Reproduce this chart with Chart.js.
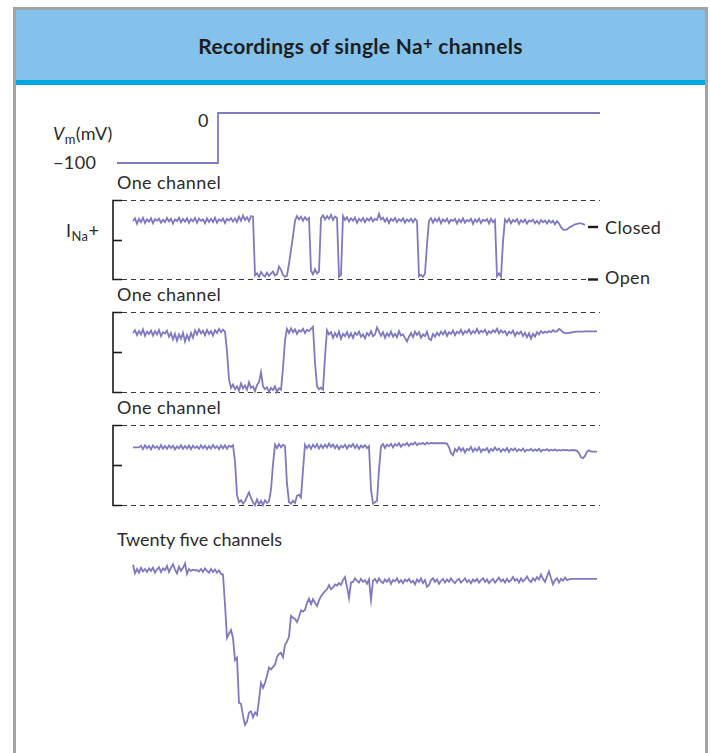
<!DOCTYPE html>
<html>
<head>
<meta charset="utf-8">
<title>Recordings of single Na+ channels</title>
<script src="https://cdn.jsdelivr.net/npm/chart.js@4.4.1/dist/chart.umd.min.js"></script>
<style>
  body { margin: 0; width: 710px; height: 753px; overflow: hidden; background: #fff;
         font-family: Lato, "DejaVu Sans", sans-serif; color: #2b2b2b; position: relative; }
  .frame { position: absolute; left: 13px; top: 7px; width: 695px; height: 780px; box-sizing: border-box;
           border: 3px solid #a3a3a3; border-bottom: none; }
  .head { position: absolute; left: 16px; top: 10px; width: 689px; height: 70px; background: #84c1eb; }
  .strip { position: absolute; left: 16px; top: 80px; width: 689px; height: 5px; background: #00a6e0; }
  .title { position: absolute; left: 16px; top: 10px; width: 689px; height: 70px; line-height: 72px;
           text-align: center; font-weight: bold; font-size: 21px; letter-spacing: 0.3px; color: #1e1e1e; }
  .lbl { position: absolute; font-size: 18px; line-height: 20px; white-space: nowrap; letter-spacing: 0.4px; }
  sub { font-size: 0.72em; vertical-align: -0.3em; line-height: 0; }
  sup { font-size: 0.8em; vertical-align: 0.3em; line-height: 0; }
  canvas { position: absolute; left: 100px; }
</style>
</head>
<body>
<div class="frame"></div>
<div class="head"></div>
<div class="strip"></div>
<div class="title">Recordings of single Na<sup>+</sup> channels</div>

<div class="lbl" style="left:198px; top:110px;">0</div>
<div class="lbl" style="left:53px; top:123px;"><i>V</i><sub>m</sub>(mV)</div>
<div class="lbl" style="left:53px; top:152px;">−100</div>
<div class="lbl" style="left:117px; top:172px;">One channel</div>
<div class="lbl" style="left:66px; top:220px;">I<sub>Na</sub>+</div>
<div class="lbl" style="left:605px; top:217px;">Closed</div>
<div class="lbl" style="left:605px; top:267px;">Open</div>
<div class="lbl" style="left:117px; top:284px;">One channel</div>
<div class="lbl" style="left:117px; top:397px;">One channel</div>
<div class="lbl" style="left:117px; top:529px; letter-spacing:0;">Twenty five channels</div>

<canvas id="vm" width="520" height="76" style="top:100px"></canvas>
<canvas id="ch1" width="520" height="100" style="top:190px"></canvas>
<canvas id="ch2" width="520" height="100" style="top:302px"></canvas>
<canvas id="ch3" width="520" height="100" style="top:415px"></canvas>
<canvas id="ens" width="520" height="190" style="top:551px"></canvas>

<script>
(function () {

// ---------------------------------------------------------------- data

var traceColor = "#7f79c0";
var xMin = 0, xMax = 48.3;          // ms
var t0 = 1.6, dt = 0.2;             // sampling of the recordings (ms)

// command potential (mV)
var vmTimes  = [0, 10.1, 48.3];
var vmValues = [-100, 0, 0];

// single channel currents (pA), closed ~ 0, open ~ -2
var channel1 = [
  0.04, 0.14, -0.06, 0.12, 0.0, 0.16, -0.03, 0.1, 0.02, 0.14,
  -0.04, 0.11, 0.05, 0.13, -0.02, 0.09, 0.0, 0.15, 0.03, 0.12,
  -0.05, 0.1, 0.04, 0.16, -0.01, 0.12, 0.02, 0.14, -0.03, 0.11,
  0.03, 0.15, -0.02, 0.13, 0.05, 0.1, -0.04, 0.14, 0.01, 0.12,
  0.0, 0.16, -0.02, 0.1, 0.04, 0.13, -0.03, 0.12, 0.06, 0.15,
  0.02, 0.13, 0.0, 0.2, 0.05, 0.24, 0.08, 0.18, 0.03, 0.22,
  0.2,
  -1.92, -1.85, -1.97, -1.8, -1.9, -1.96, -1.82, -1.94, -1.85, -1.78,
  -1.92, -1.88, -1.6, -1.72, -1.9, -1.97, -1.93,
  -1.5, -1.0, -0.5,
  0.05, 0.22, 0.1, 0.2, 0.05, 0.18, 0.08, 0.15,
  -1.75, -1.88, -1.7, -1.85, -1.78,
  0.15, 0.25, 0.1, 0.22, 0.12, 0.26, 0.08, 0.2, 0.15,
  -1.97, -1.9,
  0.22, 0.08, 0.18, 0.02, 0.14, 0.05, 0.16, -0.02, 0.12, 0.04,
  0.15, 0.0, 0.13, 0.06, 0.17, 0.03, 0.12, 0.08, 0.3, 0.1,
  0.16, 0.02, 0.14, -0.03, 0.12, 0.05, 0.15, 0.0, 0.11, 0.04,
  0.14, -0.02, 0.1, 0.03, 0.13, 0.0, 0.12, 0.05,
  -1.95, -1.9, -1.97, -1.85, -0.8,
  0.05, 0.14, -0.02, 0.12, 0.03, 0.15, -0.04, 0.1, 0.02, 0.13,
  -0.03, 0.09, 0.05, 0.12, -0.05, 0.1, 0.0, 0.14, -0.02, 0.08,
  0.03, 0.12, -0.06, 0.1, 0.01, 0.13, -0.03, 0.09, 0.04, 0.11,
  -0.05, 0.12, 0.0, 0.08,
  -1.95, -1.85, -1.97, -0.7,
  0.1, 0.0, 0.12, -0.04, 0.08, 0.02, 0.11, -0.06, 0.07, 0.0,
  0.1, -0.05, 0.06, 0.02, 0.09, -0.04, 0.05, -0.06, 0.08, 0.0,
  0.06, -0.05, 0.07, -0.02, 0.05, -0.08, 0.04, -0.05,
  -0.18, -0.27, -0.28, -0.26, -0.2, -0.16, -0.12, -0.08, -0.06, -0.04, -0.04, -0.07, -0.1
];

var channel2 = [
  0.05, 0.15, -0.02, 0.12, 0.0, 0.18, -0.05, 0.1, 0.02, 0.14,
  -0.04, 0.12, 0.0, 0.16, -0.06, 0.08, 0.03, 0.13, -0.08, 0.05,
  -0.18, 0.02, -0.22, 0.0, -0.15, 0.06, -0.25, -0.02, -0.2, 0.05,
  -0.12, 0.15, 0.0, 0.18, 0.04, 0.13, -0.03, 0.16, 0.02, 0.12,
  -0.04, 0.15, 0.05, 0.2, 0.08, 0.17, 0.1,
  -0.6, -1.6,
  -1.9, -1.78, -1.95, -1.85, -2.0, -1.75, -1.92, -1.82, -1.97, -1.7,
  -1.9, -1.85, -2.02, -1.8, -1.7, -1.35, -1.85, -1.95, -1.88, -2.05,
  -1.9, -1.98, -1.85, -2.05, -1.92, -1.97,
  -1.2, -0.2,
  0.2, 0.05, 0.22, 0.08, 0.18, 0.02, 0.15, 0.1, 0.2, 0.05, 0.16, 0.12, 0.2, 0.27,
  -1.0, -1.85, -1.95, -1.9, -1.97, -0.8,
  0.15, 0.0, 0.08, -0.12, 0.05, -0.08, 0.1, -0.15, 0.02, -0.06,
  0.08, -0.1, 0.04, -0.12, 0.06, -0.02, 0.1, -0.08, 0.0, -0.14,
  0.05, -0.04, 0.12, -0.06, 0.0, 0.25, 0.1, -0.05, 0.08, -0.12,
  0.04, -0.06, 0.1, -0.08, 0.02, -0.1, 0.12, -0.04, 0.0, -0.12,
  -0.25, -0.08, 0.05, -0.1, 0.1, -0.02, 0.08, -0.12, 0.0, -0.06,
  0.1, -0.15, -0.2, 0.02, -0.08, 0.06, -0.04, 0.1, 0.0, 0.12,
  -0.05, 0.08, 0.02, 0.14, -0.03, 0.1, 0.04, 0.16, 0.0, 0.12,
  0.06, 0.18, 0.02, 0.12, 0.05, 0.2, 0.04, 0.13, 0.08, 0.17,
  0.0, 0.12, 0.05, 0.15, 0.08, 0.2, 0.03, 0.15, 0.06, 0.12,
  -0.02, 0.1, 0.04, 0.14, -0.05, 0.08, 0.02, 0.1, -0.06, 0.06,
  -0.1, 0.04, -0.15, 0.02, -0.08, 0.08, 0.0, 0.12, 0.05, 0.1,
  0.06, 0.12, 0.08, 0.15, 0.1, 0.12,
  0.2,
  0.15, 0.08, 0.05, 0.05, 0.06, 0.07, 0.08, 0.09, 0.1, 0.1,
  0.1, 0.1, 0.11, 0.11, 0.11, 0.11, 0.11, 0.11, 0.11
];

var channel3 = [
  0.0, 0.0, 0.0, 0.0,
  0.06, -0.06, 0.08, -0.03, 0.05, -0.07, 0.07, -0.02, 0.04, -0.06,
  0.08, -0.04, 0.05, -0.05, 0.07, -0.02, 0.06, -0.07, 0.04, -0.03,
  0.08, -0.05, 0.05, -0.04, 0.07, -0.06, 0.06, -0.02, 0.04, -0.05,
  0.08, -0.03, 0.06, -0.06, 0.05, -0.04, 0.09, -0.02, 0.05, -0.06,
  0.07, -0.03, 0.08, -0.05, 0.06, 0.02, 0.08,
  -0.5, -1.7,
  -1.95, -1.88, -2.0, -1.92, -1.75, -1.6, -1.8, -1.95, -2.05, -1.85,
  -2.02, -1.9, -2.05, -1.88, -1.98, -1.92,
  -1.5, -0.6,
  0.1, -0.02, 0.12, 0.0, 0.1, 0.05,
  -1.3,
  -1.95, -2.0, -1.9, -1.98, -1.72, -1.68, -1.78,
  -0.8,
  0.1, -0.02, 0.08, -0.05, 0.1, 0.0, 0.12, -0.04, 0.09, -0.02,
  0.1, 0.0, 0.14, 0.02, 0.1, -0.03, 0.08, -0.06, 0.06, 0.0,
  0.1, -0.04, 0.08, 0.02, 0.12, -0.02, 0.09, -0.05, 0.07, 0.0,
  0.08, -0.02, 0.05,
  -1.5, -2.0, -1.95, -1.9, -0.8,
  0.05, 0.12, -0.02, 0.1, 0.04, 0.13, 0.0, 0.12, 0.06, 0.15,
  0.02, 0.12, 0.08, 0.16, 0.05, 0.14, 0.1, 0.18, 0.08, 0.15,
  0.12, 0.16, 0.1, 0.17, 0.13, 0.16, 0.15, 0.15, 0.15, 0.15, 0.15, 0.15, 0.15, 0.14,
  0.0, -0.2, -0.28,
  -0.05, -0.14, 0.0, -0.12, -0.03, -0.18, -0.05, -0.1, 0.02, -0.15,
  -0.04, -0.12, 0.0, -0.16, -0.06, -0.1, -0.02, -0.17, -0.05, -0.12,
  0.0, -0.1, -0.04, -0.15, -0.06, -0.12, -0.02, -0.16, -0.05, -0.1,
  -0.03, -0.14, -0.06, -0.12, -0.04, -0.15, -0.08, -0.11, -0.05, -0.13,
  -0.07, -0.12, -0.05, -0.14, -0.08, -0.1, -0.06, -0.12, -0.08, -0.11,
  -0.07, -0.12, -0.09, -0.11, -0.08, -0.1, -0.09, -0.11, -0.1, -0.1,
  -0.1, -0.12,
  -0.2, -0.35, -0.38, -0.3, -0.15, -0.1, -0.15, -0.15, -0.15, -0.15
];

// sum of twenty five channels (pA)
var ensemble25 = [
  1.0, -0.4, 0.3, -0.3, 0.5, -0.1, 0.3, -0.2, 0.4, 0.0,
  0.5, -0.3, 0.2, 0.6, -0.2, 0.4, 0.1, 0.8, -0.2, 0.5,
  1.1, 0.2, -0.4, 0.7, 0.0, 0.5, 1.2, -0.5, 0.3, 0.0,
  0.2, 0.1, 0.1, -0.1, 0.3, -0.2, 0.4, 0.0, -0.3, 0.3,
  -0.2, 0.2, -0.3, 0.1, -0.5, -0.6,
  -5.5, -10.9, -10.2, -9.6, -10.9, -14.5, -14.1, -21.4, -21.6, -23.5,
  -25.0, -24.5, -23.0, -22.8, -23.8, -23.0, -23.4, -21.0, -18.2, -19.0,
  -18.2, -17.0, -15.7, -16.0, -15.6, -15.2, -14.0, -13.5, -13.3, -14.0,
  -12.0, -11.5, -10.7, -7.3, -7.6, -7.8, -8.3, -7.5, -6.4, -6.6,
  -6.3, -5.2, -4.5, -5.4, -4.6, -5.2, -5.7, -4.8, -4.1, -3.7,
  -3.3, -3.0, -2.3, -3.0, -2.7, -2.2, -2.4, -2.0, -2.3, -1.5,
  -1.0, -2.6, -4.4, -1.9, -1.8, -1.2, -1.6,
  -1.9, -1.3, -1.8, -1.5, -2.1, -1.4, -4.7, -1.6, -1.3, -1.9,
  -1.2, -1.7, -2.0, -1.4, -1.8, -1.3, -2.1, -1.5, -1.7, -1.2,
  -1.9, -1.5, -2.0, -1.4, -1.7, -1.3, -1.9, -1.6, -2.2, -1.4,
  -1.8, -1.2, -2.0, -1.5, -2.6, -2.3, -1.5, -1.2, -1.8, -1.4,
  -2.1, -1.6, -1.3, -1.9, -1.4, -1.8, -1.2, -1.7, -2.0, -1.5,
  -1.3, -1.9, -1.6, -1.2, -1.8, -1.5, -2.0, -1.4, -1.7, -1.3,
  -1.9, -1.5, -1.2, -1.8, -1.4, -2.0, -1.6, -1.3, -1.9, -1.5,
  -1.1, -1.7, -1.4, -1.9, -1.3, -1.8, -1.5, -1.0, -1.6, -1.3,
  -1.9, -1.2, -1.7, -1.4, -0.9, -1.5, -1.8, -1.2, -1.6, -1.0,
  -1.4, -0.6, -1.3, -1.8, -0.9, -0.1, -1.2, -2.2, -1.5, -1.2,
  -1.9, -1.3, -1.6, -1.1, -1.5, -1.4,
  -1.3, -1.3, -1.3, -1.3, -1.3, -1.3, -1.3, -1.3, -1.3, -1.3, -1.3, -1.3, -1.3, -1.3
];

// ---------------------------------------------------------------- helpers

function toPoints(values) {
    var pts = [];
    for (var i = 0; i < values.length; i++) {
        pts.push({ x: t0 + i * dt, y: values[i] });
    }
    return pts;
}

function seg(ctx, x1, y1, x2, y2) {
    ctx.beginPath();
    ctx.moveTo(x1, y1);
    ctx.lineTo(x2, y2);
    ctx.stroke();
}

// dashed closed/open guide lines + left bracket of a single channel panel
var panelFrame = {
    id: 'panelFrame',
    beforeDatasetsDraw: function (chart, args, opts) {
        if (!opts || !opts.show) return;
        var a = chart.chartArea, ctx = chart.ctx;
        var top = Math.round(a.top) + 0.5, bot = Math.round(a.bottom) + 0.5;
        var left = a.left - 4, mid = Math.round((a.top + a.bottom) / 2) + 0.5;
        var bottomEnd = opts.markers ? a.right - 12 : a.right;

        ctx.save();
        ctx.strokeStyle = '#3a3a3a';
        ctx.lineWidth = 1;
        ctx.setLineDash([5, 4]);
        seg(ctx, left + 9, top, a.right, top);
        seg(ctx, left + 9, bot, bottomEnd, bot);
        ctx.setLineDash([]);

        ctx.strokeStyle = '#1a1a1a';
        ctx.lineWidth = 1.6;
        ctx.beginPath();
        ctx.moveTo(left + 9, top);
        ctx.lineTo(left, top);
        ctx.lineTo(left, bot);
        ctx.lineTo(left + 9, bot);
        ctx.stroke();
        seg(ctx, left, mid, left + 9, mid);

        if (opts.markers) {
            var yc = chart.scales.y.getPixelForValue(opts.closedLevel);
            ctx.lineWidth = 2.4;
            seg(ctx, a.right - 12, Math.round(yc), a.right - 2, Math.round(yc));
            seg(ctx, a.right - 12, bot, a.right - 2, bot);
        }
        ctx.restore();
    }
};

function makeTrace(id, points, yMin, yMax, pad, frame, stepped) {
    try {
        var canvas = document.getElementById(id);
        if (!canvas) return;
        var ctx = canvas.getContext('2d');

        return new Chart(ctx, {
            type: 'line',
            data: {
                datasets: [{
                    data: points,
                    borderColor: traceColor,
                    borderWidth: 1.8,
                    pointRadius: 0,
                    fill: false,
                    tension: 0,
                    stepped: stepped || false,
                    clip: false
                }]
            },
            options: {
                responsive: false,
                animation: false,
                events: [],
                layout: { padding: { left: 17, right: 20, top: pad[0], bottom: pad[1] } },
                scales: {
                    x: { type: 'linear', min: xMin, max: xMax, display: false },
                    y: { min: yMin, max: yMax, display: false }
                },
                plugins: {
                    legend: { display: false },
                    tooltip: { enabled: false },
                    panelFrame: frame || {}
                }
            },
            plugins: [panelFrame]
        });
    } catch (e) {
        console.log("Error in makeTrace: " + e);
    }
}

// ---------------------------------------------------------------- charts

var vmPoints = vmTimes.map(function (t, i) { return { x: t, y: vmValues[i] }; });
makeTrace('vm', vmPoints, -100, 0, [13, 13], null, true);

makeTrace('ch1', toPoints(channel1), -2.05, 0.8, [10, 11], { show: true, markers: true, closedLevel: -0.17 });
makeTrace('ch2', toPoints(channel2), -2.05, 0.8, [10, 10], { show: true });
makeTrace('ch3', toPoints(channel3), -2.05, 0.8, [10, 10], { show: true });

makeTrace('ens', toPoints(ensemble25), -26, 1.6, [10, 10], null);

})();
</script>
</body>
</html>
